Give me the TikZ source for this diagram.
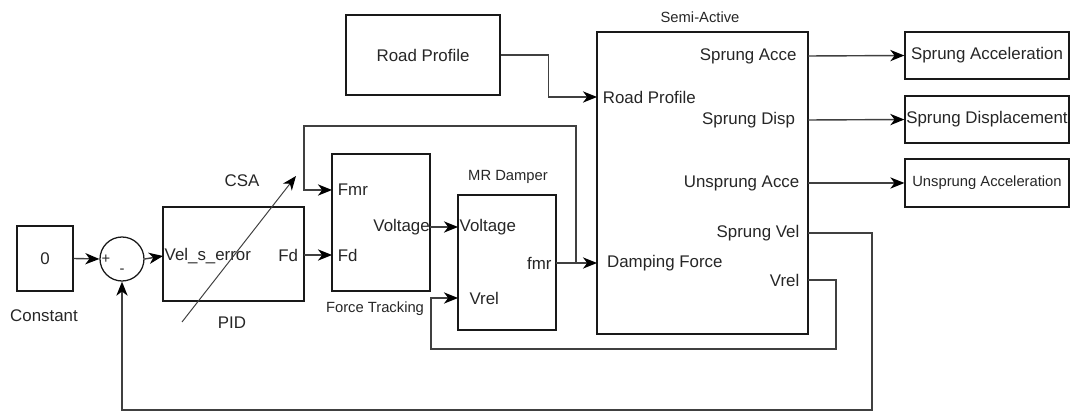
\documentclass[tikz,border=0pt]{standalone}
\usepackage{fontspec}
\setmainfont{Liberation Sans}
\usetikzlibrary{arrows.meta}

\begin{document}
\begin{tikzpicture}[x=0.025cm,y=-0.025cm,
	every node/.style={font=\fontsize{12}{14}\selectfont,text=black!85},
	small/.style={font=\fontsize{10.5}{12}\selectfont},
	blk/.style n args={2}{draw=black!90,line width=0.9pt,minimum width=#1*0.025cm,minimum height=#2*0.025cm,inner sep=0pt},
	inp/.style={anchor=west,inner xsep=#1,inner ysep=1pt},
	inp/.default=4pt,
	outp/.style={anchor=east,inner xsep=#1,inner ysep=1pt},
	outp/.default=4pt,
	wire/.style={draw=black!75,line width=1pt},
	arr/.style={wire,-{Stealth[length=10pt,width=8pt,inset=3pt,black]}}]
	\useasboundingbox (0,0) rectangle (1070,412);
	% blocks
	\node[blk={56}{65}] (cst) at (45,258.5) {0};
	\node (cstLbl) at (44,316) {Constant};
	\node[draw=black!90,line width=0.9pt,circle,minimum size=44*0.025cm,inner sep=0pt] (sum) at (122,259) {};
	\node[small,inner sep=0pt] (sumP) at (106,259) {+};
	\node[small,inner sep=0pt] (sumM) at (122,271) {-};
	\node[blk={141}{94}] (pid) at (233.5,254) {};
	\node (pidLbl) at (232,323) {PID};
	\node (csaLbl) at (242,181) {CSA};
	\node[blk={98}{137}] (ft) at (381,222.5) {};
	\node[small] (ftLbl) at (375,309) {Force Tracking};
	\node[blk={98}{135}] (mr) at (507,262.5) {};
	\node[small] (mrLbl) at (508,177) {MR Damper};
	\node[blk={211}{302}] (sem) at (702.5,183) {};
	\node[small] (semLbl) at (700,17) {Semi-Active};
	\node[blk={154}{80}] (road) at (423,55) {Road Profile};
	\node[blk={164}{47}] (outSA) at (987,55.5) {Sprung Acceleration};
	\node[blk={164}{47}] (outSD) at (987,119.5) {Sprung Displacement};
	\node[blk={164}{48}] (outUA) at (987,183) {\fontsize{10.5}{12}\selectfont Unsprung Acceleration};
	% ports
	\node[inp=1pt] (pidIn) at (163,256) {Vel\_s\_error};
	\node[outp=4pt] (pidFd) at (304,255) {Fd};
	\node[inp] (ftFmr) at (332,190) {Fmr};
	\node[inp] (ftFd) at (332,255) {Fd};
	\node[outp=0pt] (ftV) at (430,227) {Voltage};
	\node[inp=1pt] (mrV) at (458,227) {Voltage};
	\node[inp=8pt] (mrVrel) at (458,298) {Vrel};
	\node[outp=3pt] (mrFmr) at (556,263) {fmr};
	\node[inp] (semRP) at (597,97) {Road Profile};
	\node[inp=7pt] (semDF) at (597,263) {Damping Force};
	\node[outp=8pt] (semSA) at (808,56) {Sprung Acce};
	\node[outp=9pt] (semSD) at (808,120) {Sprung Disp};
	\node[outp=6pt] (semUA) at (808,183) {Unsprung Acce};
	\node[outp=6pt] (semSV) at (808,233) {Sprung Vel};
	\node[outp=6pt] (semVrel) at (808,280) {Vrel};
	% connectors
	\draw[arr] (cst.east) -- (sum.west);
	\draw[arr] (sum.east) -- (pidIn.west);
	\draw[arr] (pidFd.east) -- (ftFd.west);
	\draw[arr] (ftV.east) -- (mrV.west);
	\draw[arr] (mrFmr.east) -- (semDF.west);
	\coordinate (br) at (576,263);
	\draw[arr] (br) |- (304,126) |- (ftFmr.west);
	\draw[arr] (road.east) -- ++(48,0) |- (semRP.west);
	\draw[arr] (semSA.east) -- (outSA.west);
	\draw[arr] (semSD.east) -- (outSD.west);
	\draw[arr] (semUA.east) -- (outUA.west);
	\draw[arr] (semVrel.east) -- ++(28,0) |- (431,349) |- (mrVrel.west);
	\draw[arr] (semSV.east) -- ++(64,0) |- (122,410) -- (sum.south);
	\coordinate (csaA) at (182,322);
	\coordinate (csaB) at (296,176);
	\draw[arr,line width=0.7pt] (csaA) -- (csaB);
\end{tikzpicture}
\end{document}
